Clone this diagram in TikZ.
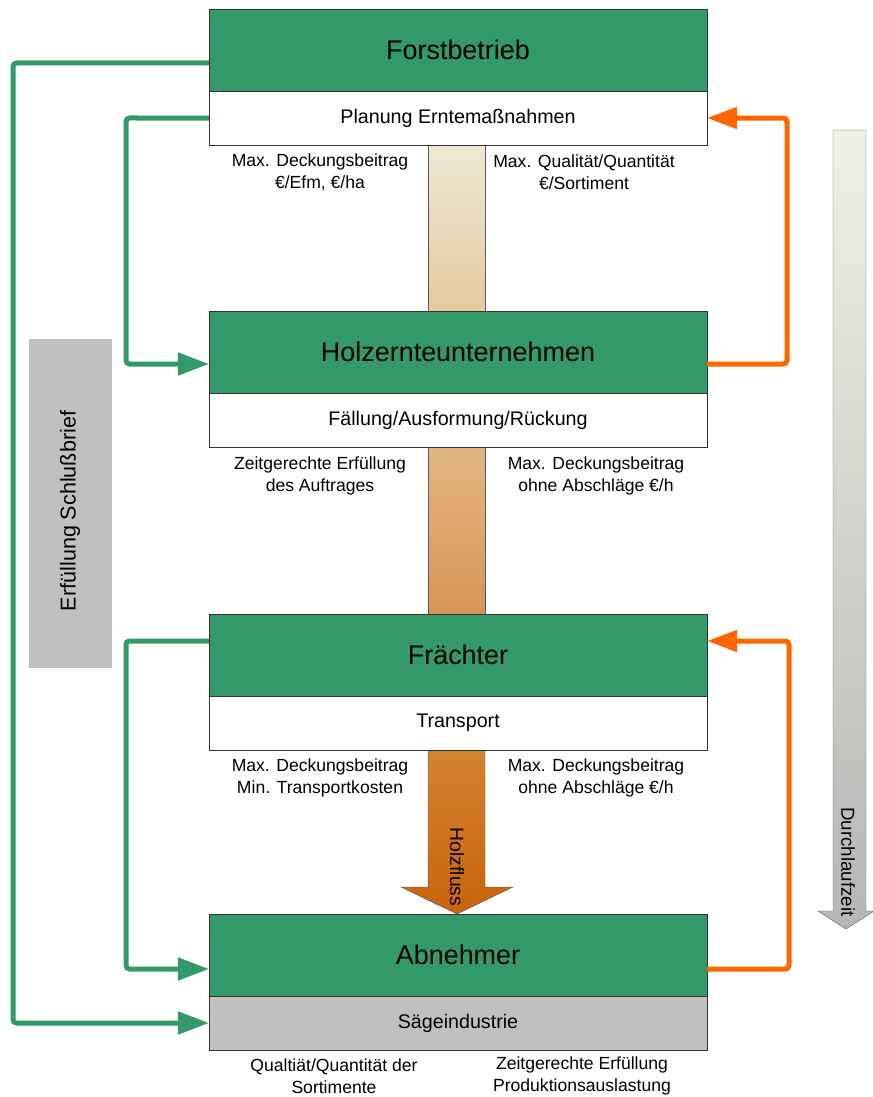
\documentclass[tikz,border=0pt]{standalone}
\usepackage{fontspec}
\setmainfont{Liberation Sans}
\usetikzlibrary{positioning,arrows.meta,calc}
\definecolor{forstgreen}{RGB}{52,153,104}
\definecolor{flowred}{RGB}{255,102,0}
\definecolor{boxgray}{RGB}{192,192,192}

\begin{document}
\begin{tikzpicture}[x=0.03cm,y=-0.03cm,
  every node/.style={font=\fontsize{15}{18.6}\selectfont},
  head/.style={draw=black!80,fill=forstgreen,minimum width=14.94cm,minimum height=2.46cm,
    inner sep=0pt,outer sep=0pt,font=\fontsize{23}{27}\selectfont,anchor=north},
  sub/.style={draw=black!80,fill=white,minimum width=14.94cm,minimum height=1.62cm,
    inner sep=0pt,outer sep=0pt,font=\fontsize{16.8}{20}\selectfont},
  lbl/.style={align=center,inner sep=0pt},
  gline/.style={line width=0.15cm,forstgreen,rounded corners=3pt,
    -{Triangle[length=0.93cm,width=0.66cm]}},
  oline/.style={line width=0.15cm,flowred,rounded corners=3pt,
    -{Triangle[length=0.9cm,width=0.63cm]}}]
\useasboundingbox (0,0) rectangle (873,1097);

% Holzfluss band
\shade[top color={rgb,255:red,238;green,232;blue,212},bottom color={rgb,255:red,229;green,201;blue,160},draw=black!65]
  (428,145) rectangle (485,311);
\shade[top color={rgb,255:red,226;green,182;blue,130},bottom color={rgb,255:red,215;green,150;blue,85},draw=black!65]
  (428,447) rectangle (485,614);
\shade[top color={rgb,255:red,212;green,130;blue,50},bottom color={rgb,255:red,200;green,100;blue,10},draw=black!65]
  (428,749) -- (485,749) -- (485,887) -- (513,887) -- (457,914) -- (401,887) -- (428,887) -- cycle;
\node[rotate=-90,font=\fontsize{16.5}{20}\selectfont] (fluss) at (457,867) {Holzfluss};

% Durchlaufzeit
\shade[top color={rgb,255:red,240;green,240;blue,228},bottom color={rgb,255:red,182;green,182;blue,182},draw=black!60]
  (833,130) -- (866,130) -- (866,911) -- (874,911) -- (846,929) -- (818,911) -- (833,911) -- cycle;
\node[rotate=-90,font=\fontsize{16}{19}\selectfont] (zeit) at (848,862) {Durchlaufzeit};

% Schlussbrief
\fill[boxgray] (29,339) rectangle (112,668);
\node[rotate=90,font=\fontsize{18.4}{22}\selectfont] (schluss) at (70,511) {Erfüllung Schlußbrief};

% Akteure
\node[head] (forst) at (458,9) {Forstbetrieb};
\node[sub,below=0pt of forst] (planung) {Planung Erntemaßnahmen};
\node[head] (ernte) at (458,311) {Holzernteunternehmen};
\node[sub,below=0pt of ernte] (faellung) {Fällung/Ausformung/Rückung};
\node[head] (fraechter) at (458,614) {Frächter};
\node[sub,below=0pt of fraechter] (transport) {Transport};
\node[head] (abnehmer) at (458,914) {Abnehmer};
\node[sub,fill=boxgray,below=0pt of abnehmer] (saege) {Sägeindustrie};

% Ziele
\node[lbl] (forstL) at (320,172) {Max. Deckungsbeitrag\\€/Efm, €/ha};
\node[lbl] (forstR) at (584,172) {Max. Qualität/Quantität\\€/Sortiment};
\node[lbl] (ernteL) at (320,476) {Zeitgerechte Erfüllung\\des Auftrages};
\node[lbl] (ernteR) at (596,476) {Max. Deckungsbeitrag\\ohne Abschläge €/h};
\node[lbl] (fraechterL) at (320,778) {Max. Deckungsbeitrag\\Min. Transportkosten};
\node[lbl] (fraechterR) at (596,778) {Max. Deckungsbeitrag\\ohne Abschläge €/h};
\node[lbl] (abnehmerL) at (334,1076) {Qualtiät/Quantität der\\Sortimente};
\node[lbl] (abnehmerR) at (582,1076) {Zeitgerechte Erfüllung\\Produktionsauslastung};

% Verbindungen
\draw[gline] (forst.west |- 0,63) -- (13,63) |- (saege.west);
\draw[gline] (planung.west) -- (126,118) |- (ernte.west |- 0,364);
\draw[gline] (fraechter.west |- 0,641) -- (126,641) |- (abnehmer.west |- 0,969);
\draw[oline] (ernte.east |- 0,364) -- (787,364) |- (planung.east);
\draw[oline] (abnehmer.east |- 0,969) -- (789,969) |- (fraechter.east |- 0,641);
\end{tikzpicture}
\end{document}
